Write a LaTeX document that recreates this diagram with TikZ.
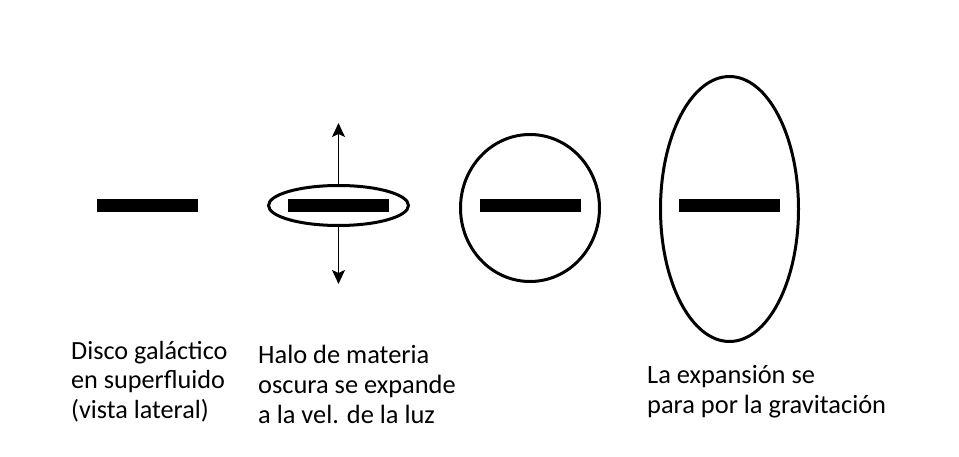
\documentclass[tikz,border=0pt]{standalone}
\usepackage{fontspec}
\setmainfont{Carlito}
\usetikzlibrary{shapes.geometric,arrows.meta}
\begin{document}
\begin{tikzpicture}[x=1pt,y=-1pt,
  bar/.style={fill=black,draw=none,minimum width=101pt,minimum height=13pt,inner sep=0pt,outer sep=0pt},
  halo/.style={draw=black,line width=3pt,ellipse,inner sep=0pt,outer sep=0pt},
  arr/.style={line width=1.4pt,-{Stealth[length=14pt,width=13pt,inset=3pt]}},
  lbl/.style={anchor=base west,align=left,inner sep=0pt,font=\fontsize{26.4}{30}\selectfont}]
\useasboundingbox (0,0) rectangle (959,457);
\node[bar] (b1) at (147.5,205.5) {};
\node[halo,minimum width=140pt,minimum height=40pt] (h2) at (338.5,205.5) {};
\node[bar] (b2) at (338.5,205.5) {};
\node[halo,minimum width=139pt,minimum height=147pt] (h3) at (530,208) {};
\node[bar] (b3) at (530,205.5) {};
\node[halo,minimum width=138pt,minimum height=265pt] (h4) at (729.5,209) {};
\node[bar] (b4) at (729.5,205.5) {};
\coordinate (up) at (338.5,123);
\coordinate (dn) at (338.5,284);
\draw[arr] (h2.north) -- (up);
\draw[arr] (h2.south) -- (dn);
\node[lbl,font=\fontsize{26.2}{29.3}\selectfont] (t1) at (71,418) {Disco galáctico\\en superfluido\\(vista lateral)};
\node[lbl] (t2) at (258,423) {Halo de materia\\oscura se expande\\a la vel. de la luz};
\node[lbl] (t3) at (647,413) {La expansión se\\para por la gravitación};
\end{tikzpicture}
\end{document}
